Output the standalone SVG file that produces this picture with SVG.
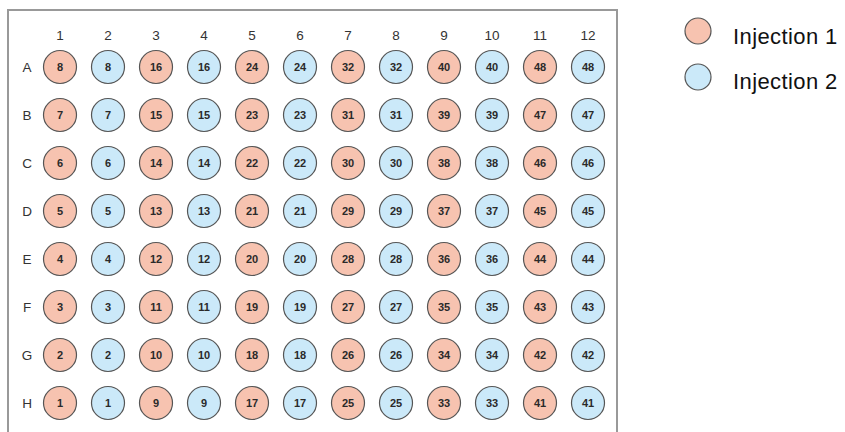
<svg xmlns="http://www.w3.org/2000/svg" width="845" height="432" viewBox="0 0 845 432">
<style>
.w1{fill:#F7C3B0;stroke:#555;stroke-width:1.2}
.w2{fill:#CBE9F9;stroke:#555;stroke-width:1.2}
.n{font-family:"Liberation Sans",Arial,sans-serif;font-weight:bold;font-size:11px;fill:#2a2a2a;text-anchor:middle}
.lab{font-family:"Liberation Sans",Arial,sans-serif;font-size:13.5px;fill:#333;text-anchor:middle}
.leg{font-family:"Liberation Sans",Arial,sans-serif;font-size:22px;fill:#111;letter-spacing:0.4px}
</style>
<rect width="845" height="432" fill="#fff"/>
<path d="M8,440 V10 H617 V440" fill="none" stroke="#999" stroke-width="2"/>
<g id="column-labels">
<text class="lab" x="60" y="40">1</text><text class="lab" x="108" y="40">2</text><text class="lab" x="156" y="40">3</text><text class="lab" x="204" y="40">4</text><text class="lab" x="252" y="40">5</text><text class="lab" x="300" y="40">6</text><text class="lab" x="348" y="40">7</text><text class="lab" x="396" y="40">8</text><text class="lab" x="444" y="40">9</text><text class="lab" x="492" y="40">10</text><text class="lab" x="540" y="40">11</text><text class="lab" x="588" y="40">12</text>
</g>
<g id="row-labels">
<text class="lab" x="27" y="72">A</text><text class="lab" x="27" y="120">B</text><text class="lab" x="27" y="168">C</text><text class="lab" x="27" y="216">D</text><text class="lab" x="27" y="264">E</text><text class="lab" x="27" y="312">F</text><text class="lab" x="27" y="360">G</text><text class="lab" x="27" y="408">H</text>
</g>
<g id="wells">
<g id="rowA">
<circle class="w1" cx="60" cy="67" r="16.5"/><text class="n" x="60" y="71">8</text>
<circle class="w2" cx="108" cy="67" r="16.5"/><text class="n" x="108" y="71">8</text>
<circle class="w1" cx="156" cy="67" r="16.5"/><text class="n" x="156" y="71">16</text>
<circle class="w2" cx="204" cy="67" r="16.5"/><text class="n" x="204" y="71">16</text>
<circle class="w1" cx="252" cy="67" r="16.5"/><text class="n" x="252" y="71">24</text>
<circle class="w2" cx="300" cy="67" r="16.5"/><text class="n" x="300" y="71">24</text>
<circle class="w1" cx="348" cy="67" r="16.5"/><text class="n" x="348" y="71">32</text>
<circle class="w2" cx="396" cy="67" r="16.5"/><text class="n" x="396" y="71">32</text>
<circle class="w1" cx="444" cy="67" r="16.5"/><text class="n" x="444" y="71">40</text>
<circle class="w2" cx="492" cy="67" r="16.5"/><text class="n" x="492" y="71">40</text>
<circle class="w1" cx="540" cy="67" r="16.5"/><text class="n" x="540" y="71">48</text>
<circle class="w2" cx="588" cy="67" r="16.5"/><text class="n" x="588" y="71">48</text>
</g>
<g id="rowB">
<circle class="w1" cx="60" cy="115" r="16.5"/><text class="n" x="60" y="119">7</text>
<circle class="w2" cx="108" cy="115" r="16.5"/><text class="n" x="108" y="119">7</text>
<circle class="w1" cx="156" cy="115" r="16.5"/><text class="n" x="156" y="119">15</text>
<circle class="w2" cx="204" cy="115" r="16.5"/><text class="n" x="204" y="119">15</text>
<circle class="w1" cx="252" cy="115" r="16.5"/><text class="n" x="252" y="119">23</text>
<circle class="w2" cx="300" cy="115" r="16.5"/><text class="n" x="300" y="119">23</text>
<circle class="w1" cx="348" cy="115" r="16.5"/><text class="n" x="348" y="119">31</text>
<circle class="w2" cx="396" cy="115" r="16.5"/><text class="n" x="396" y="119">31</text>
<circle class="w1" cx="444" cy="115" r="16.5"/><text class="n" x="444" y="119">39</text>
<circle class="w2" cx="492" cy="115" r="16.5"/><text class="n" x="492" y="119">39</text>
<circle class="w1" cx="540" cy="115" r="16.5"/><text class="n" x="540" y="119">47</text>
<circle class="w2" cx="588" cy="115" r="16.5"/><text class="n" x="588" y="119">47</text>
</g>
<g id="rowC">
<circle class="w1" cx="60" cy="163" r="16.5"/><text class="n" x="60" y="167">6</text>
<circle class="w2" cx="108" cy="163" r="16.5"/><text class="n" x="108" y="167">6</text>
<circle class="w1" cx="156" cy="163" r="16.5"/><text class="n" x="156" y="167">14</text>
<circle class="w2" cx="204" cy="163" r="16.5"/><text class="n" x="204" y="167">14</text>
<circle class="w1" cx="252" cy="163" r="16.5"/><text class="n" x="252" y="167">22</text>
<circle class="w2" cx="300" cy="163" r="16.5"/><text class="n" x="300" y="167">22</text>
<circle class="w1" cx="348" cy="163" r="16.5"/><text class="n" x="348" y="167">30</text>
<circle class="w2" cx="396" cy="163" r="16.5"/><text class="n" x="396" y="167">30</text>
<circle class="w1" cx="444" cy="163" r="16.5"/><text class="n" x="444" y="167">38</text>
<circle class="w2" cx="492" cy="163" r="16.5"/><text class="n" x="492" y="167">38</text>
<circle class="w1" cx="540" cy="163" r="16.5"/><text class="n" x="540" y="167">46</text>
<circle class="w2" cx="588" cy="163" r="16.5"/><text class="n" x="588" y="167">46</text>
</g>
<g id="rowD">
<circle class="w1" cx="60" cy="211" r="16.5"/><text class="n" x="60" y="215">5</text>
<circle class="w2" cx="108" cy="211" r="16.5"/><text class="n" x="108" y="215">5</text>
<circle class="w1" cx="156" cy="211" r="16.5"/><text class="n" x="156" y="215">13</text>
<circle class="w2" cx="204" cy="211" r="16.5"/><text class="n" x="204" y="215">13</text>
<circle class="w1" cx="252" cy="211" r="16.5"/><text class="n" x="252" y="215">21</text>
<circle class="w2" cx="300" cy="211" r="16.5"/><text class="n" x="300" y="215">21</text>
<circle class="w1" cx="348" cy="211" r="16.5"/><text class="n" x="348" y="215">29</text>
<circle class="w2" cx="396" cy="211" r="16.5"/><text class="n" x="396" y="215">29</text>
<circle class="w1" cx="444" cy="211" r="16.5"/><text class="n" x="444" y="215">37</text>
<circle class="w2" cx="492" cy="211" r="16.5"/><text class="n" x="492" y="215">37</text>
<circle class="w1" cx="540" cy="211" r="16.5"/><text class="n" x="540" y="215">45</text>
<circle class="w2" cx="588" cy="211" r="16.5"/><text class="n" x="588" y="215">45</text>
</g>
<g id="rowE">
<circle class="w1" cx="60" cy="259" r="16.5"/><text class="n" x="60" y="263">4</text>
<circle class="w2" cx="108" cy="259" r="16.5"/><text class="n" x="108" y="263">4</text>
<circle class="w1" cx="156" cy="259" r="16.5"/><text class="n" x="156" y="263">12</text>
<circle class="w2" cx="204" cy="259" r="16.5"/><text class="n" x="204" y="263">12</text>
<circle class="w1" cx="252" cy="259" r="16.5"/><text class="n" x="252" y="263">20</text>
<circle class="w2" cx="300" cy="259" r="16.5"/><text class="n" x="300" y="263">20</text>
<circle class="w1" cx="348" cy="259" r="16.5"/><text class="n" x="348" y="263">28</text>
<circle class="w2" cx="396" cy="259" r="16.5"/><text class="n" x="396" y="263">28</text>
<circle class="w1" cx="444" cy="259" r="16.5"/><text class="n" x="444" y="263">36</text>
<circle class="w2" cx="492" cy="259" r="16.5"/><text class="n" x="492" y="263">36</text>
<circle class="w1" cx="540" cy="259" r="16.5"/><text class="n" x="540" y="263">44</text>
<circle class="w2" cx="588" cy="259" r="16.5"/><text class="n" x="588" y="263">44</text>
</g>
<g id="rowF">
<circle class="w1" cx="60" cy="307" r="16.5"/><text class="n" x="60" y="311">3</text>
<circle class="w2" cx="108" cy="307" r="16.5"/><text class="n" x="108" y="311">3</text>
<circle class="w1" cx="156" cy="307" r="16.5"/><text class="n" x="156" y="311">11</text>
<circle class="w2" cx="204" cy="307" r="16.5"/><text class="n" x="204" y="311">11</text>
<circle class="w1" cx="252" cy="307" r="16.5"/><text class="n" x="252" y="311">19</text>
<circle class="w2" cx="300" cy="307" r="16.5"/><text class="n" x="300" y="311">19</text>
<circle class="w1" cx="348" cy="307" r="16.5"/><text class="n" x="348" y="311">27</text>
<circle class="w2" cx="396" cy="307" r="16.5"/><text class="n" x="396" y="311">27</text>
<circle class="w1" cx="444" cy="307" r="16.5"/><text class="n" x="444" y="311">35</text>
<circle class="w2" cx="492" cy="307" r="16.5"/><text class="n" x="492" y="311">35</text>
<circle class="w1" cx="540" cy="307" r="16.5"/><text class="n" x="540" y="311">43</text>
<circle class="w2" cx="588" cy="307" r="16.5"/><text class="n" x="588" y="311">43</text>
</g>
<g id="rowG">
<circle class="w1" cx="60" cy="355" r="16.5"/><text class="n" x="60" y="359">2</text>
<circle class="w2" cx="108" cy="355" r="16.5"/><text class="n" x="108" y="359">2</text>
<circle class="w1" cx="156" cy="355" r="16.5"/><text class="n" x="156" y="359">10</text>
<circle class="w2" cx="204" cy="355" r="16.5"/><text class="n" x="204" y="359">10</text>
<circle class="w1" cx="252" cy="355" r="16.5"/><text class="n" x="252" y="359">18</text>
<circle class="w2" cx="300" cy="355" r="16.5"/><text class="n" x="300" y="359">18</text>
<circle class="w1" cx="348" cy="355" r="16.5"/><text class="n" x="348" y="359">26</text>
<circle class="w2" cx="396" cy="355" r="16.5"/><text class="n" x="396" y="359">26</text>
<circle class="w1" cx="444" cy="355" r="16.5"/><text class="n" x="444" y="359">34</text>
<circle class="w2" cx="492" cy="355" r="16.5"/><text class="n" x="492" y="359">34</text>
<circle class="w1" cx="540" cy="355" r="16.5"/><text class="n" x="540" y="359">42</text>
<circle class="w2" cx="588" cy="355" r="16.5"/><text class="n" x="588" y="359">42</text>
</g>
<g id="rowH">
<circle class="w1" cx="60" cy="403" r="16.5"/><text class="n" x="60" y="407">1</text>
<circle class="w2" cx="108" cy="403" r="16.5"/><text class="n" x="108" y="407">1</text>
<circle class="w1" cx="156" cy="403" r="16.5"/><text class="n" x="156" y="407">9</text>
<circle class="w2" cx="204" cy="403" r="16.5"/><text class="n" x="204" y="407">9</text>
<circle class="w1" cx="252" cy="403" r="16.5"/><text class="n" x="252" y="407">17</text>
<circle class="w2" cx="300" cy="403" r="16.5"/><text class="n" x="300" y="407">17</text>
<circle class="w1" cx="348" cy="403" r="16.5"/><text class="n" x="348" y="407">25</text>
<circle class="w2" cx="396" cy="403" r="16.5"/><text class="n" x="396" y="407">25</text>
<circle class="w1" cx="444" cy="403" r="16.5"/><text class="n" x="444" y="407">33</text>
<circle class="w2" cx="492" cy="403" r="16.5"/><text class="n" x="492" y="407">33</text>
<circle class="w1" cx="540" cy="403" r="16.5"/><text class="n" x="540" y="407">41</text>
<circle class="w2" cx="588" cy="403" r="16.5"/><text class="n" x="588" y="407">41</text>
</g>
</g>
<g id="legend">
<g id="legend-injection1">
<circle class="w1" cx="698" cy="31" r="13"/>
<text class="leg" x="733" y="44">Injection 1</text>
</g>
<g id="legend-injection2">
<circle class="w2" cx="698" cy="77" r="13"/>
<text class="leg" x="733" y="89">Injection 2</text>
</g>
</g>
</svg>
